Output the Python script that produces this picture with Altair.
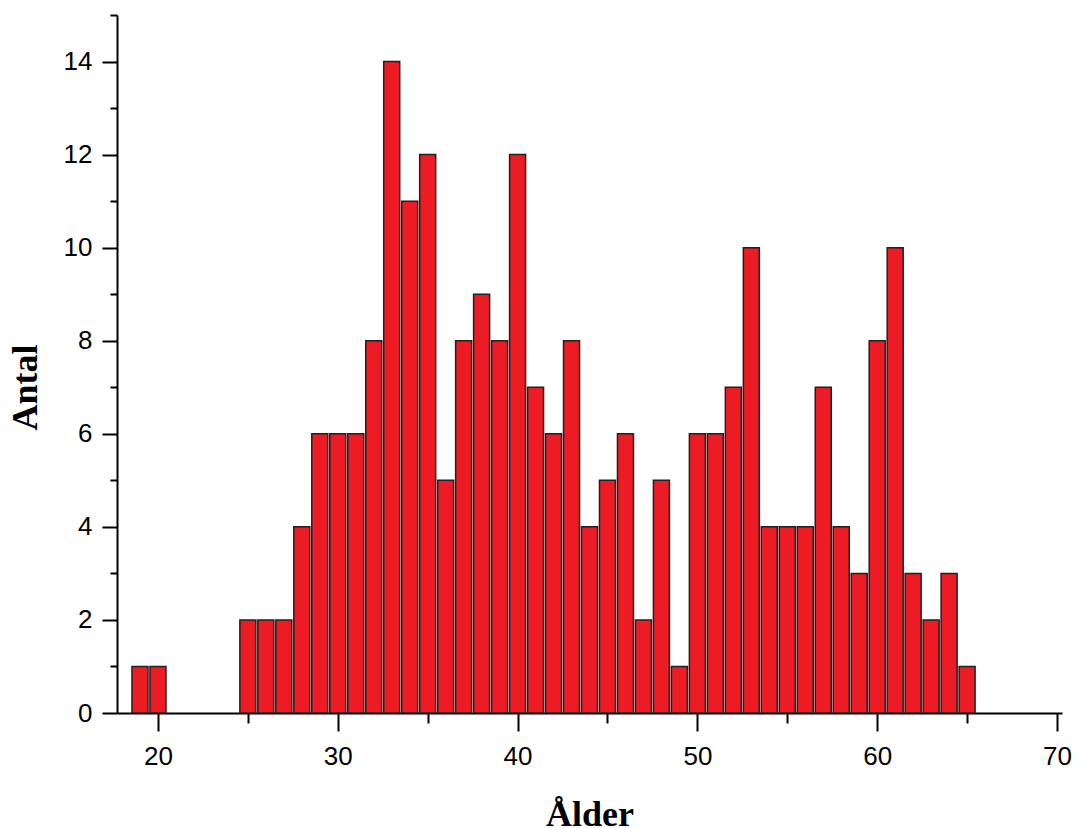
import altair as alt
import pandas as pd

ages = list(range(19, 66))
counts = [1, 1, 0, 0, 0, 0, 2, 2, 2, 4, 6, 6, 6, 8, 14, 11, 12, 5, 8, 9, 8, 12,
          7, 6, 8, 4, 5, 6, 2, 5, 1, 6, 6, 7, 10, 4, 4, 4, 7, 4, 3, 8, 10, 3, 2, 3, 1]
x_major = [20, 30, 40, 50, 60, 70]
x_minor = [25, 35, 45, 55, 65]
y_major = [0, 2, 4, 6, 8, 10, 12, 14]
y_minor = [1, 3, 5, 7, 9, 11, 13, 15]

df = pd.DataFrame({"age": ages, "count": counts})
df = df[df["count"] > 0]

W, H = 945, 698

xscale = alt.Scale(domain=[18, 70], nice=False, zero=False)
yscale = alt.Scale(domain=[0, 15], nice=False)

label_font = "Liberation Sans"
title_font = "Liberation Serif"

bars = alt.Chart(df).mark_bar(
    size=16, fill="#ED1C24", stroke="#231F20", strokeWidth=1.5
).encode(
    x=alt.X("age:Q", scale=xscale, axis=alt.Axis(
        orient="bottom", values=x_major, title="Ålder", grid=False,
        tickSize=18, tickWidth=2, tickColor="black",
        domainWidth=2, domainColor="black",
        labelFont=label_font, labelFontSize=26, labelColor="black", labelPadding=12,
        titleFont=title_font, titleFontSize=36, titleFontWeight="bold", titleColor="black",
        titleX=W / 2, titleY=112, titleBaseline="alphabetic", titleAlign="center",
    )),
    y=alt.Y("count:Q", scale=yscale, axis=alt.Axis(
        orient="left", values=y_major, title="Antal", grid=False,
        tickSize=15, tickWidth=2, tickColor="black",
        domainWidth=2, domainColor="black",
        labelFont=label_font, labelFontSize=26, labelColor="black", labelPadding=10,
        titleFont=title_font, titleFontSize=36, titleFontWeight="bold", titleColor="black",
        titleAngle=-90, titleX=-81, titleY=372, titleBaseline="alphabetic", titleAlign="center",
    )),
)

minor = alt.Chart(df).mark_point(opacity=0).encode(
    x=alt.X("age:Q", scale=xscale, axis=alt.Axis(
        orient="bottom", values=x_minor, title=None, grid=False, labels=False,
        domain=False, tickSize=10, tickWidth=2, tickColor="black",
    )),
    y=alt.Y("count:Q", scale=yscale, axis=alt.Axis(
        orient="left", values=y_minor, title=None, grid=False, labels=False,
        domain=False, tickSize=7, tickWidth=2, tickColor="black",
    )),
)

chart = alt.layer(bars, minor).resolve_axis(x="independent", y="independent").properties(
    width=W, height=H,
    background="white",
    autosize=alt.AutoSizeParams(type="none"),
    padding={"left": 109, "top": 7, "right": 15, "bottom": 113},
).configure_view(stroke="transparent", strokeWidth=0).configure_axis(grid=False)

chart.save("out.html", embed_options={"renderer": "svg", "actions": False})
